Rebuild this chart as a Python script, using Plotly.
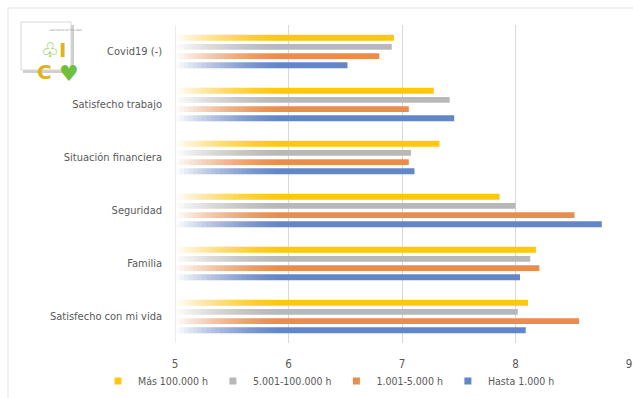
import plotly.graph_objects as go

categories = ["Satisfecho con mi vida", "Familia", "Seguridad",
              "Situación financiera", "Satisfecho trabajo", "Covid19 (-)"]
hasta_1000 = [8.09, 8.04, 8.76, 7.11, 7.46, 6.52]
h1001_5000 = [8.56, 8.21, 8.52, 7.06, 7.06, 6.80]
h5001_100000 = [8.02, 8.13, 8.00, 7.08, 7.42, 6.91]
mas_100000 = [8.11, 8.18, 7.86, 7.33, 7.28, 6.93]

series_names = ["Hasta 1.000 h", "1.001-5.000 h", "5.001-100.000 h", "Más 100.000 h"]
series_values = [hasta_1000, h1001_5000, h5001_100000, mas_100000]
series_colors = ["#6386C9", "#EC8C4A", "#B8B8B8", "#FFC80F"]
x_ticks = [5, 6, 7, 8, 9]

W, H = 633, 398
L, R, T, B = 175, 4, 25, 55
PW, PH = W - L - R, H - T - B


def px(x):
    return (x - L) / PW


def py(y):
    return (H - B - y) / PH


fig = go.Figure()
for name, vals, col in zip(series_names, series_values, series_colors):
    fig.add_trace(go.Bar(y=categories, x=vals, orientation="h", name=name,
                         marker=dict(color=col, line=dict(width=0)),
                         showlegend=False, hoverinfo="x+name"))
for name, col in zip(series_names, series_colors):
    fig.add_trace(go.Scatter(x=[None], y=[None], mode="markers", name=name,
                             marker=dict(symbol="square", size=7, color=col)))

# white fade overlay (gradient look of the bars, from the left edge)
shapes = []
N, span = 24, 0.95
targets = [(1 - (j - 0.5) / N) ** 1.4 for j in range(1, N + 1)] + [0.0]
for j in range(N, 0, -1):
    o = 1 - (1 - targets[j - 1]) / (1 - targets[j])
    shapes.append(dict(type="rect", xref="x", yref="paper", x0=5, x1=5 + span * j / N,
                       y0=0, y1=1, fillcolor="white", opacity=max(0.0, min(1.0, o)),
                       line=dict(width=0), layer="above"))
shapes += [
    dict(type="line", xref="x", yref="paper", x0=5, x1=5, y0=0, y1=1,
         line=dict(color="#d9d9d9", width=1), layer="above"),
    dict(type="line", xref="paper", yref="paper", x0=px(8), x1=px(640), y0=py(8), y1=py(8),
         line=dict(color="#e3e3e3", width=1)),
    dict(type="line", xref="paper", yref="paper", x0=px(8), x1=px(8), y0=py(8), y1=py(400),
         line=dict(color="#e3e3e3", width=1)),
    # logo tile shadow + tile
    dict(type="rect", xref="paper", yref="paper", x0=px(23), x1=px(74), y0=py(25), y1=py(73),
         fillcolor="#cfcfcf", line=dict(width=0)),
    dict(type="rect", xref="paper", yref="paper", x0=px(21), x1=px(71), y0=py(22), y1=py(70),
         fillcolor="white", line=dict(color="#d8d8d8", width=1)),
]

font_family = "'DejaVu Sans Condensed', 'Liberation Sans Narrow', sans-serif"
fig.update_layout(
    width=W, height=H,
    margin=dict(l=L, r=R, t=T, b=B, autoexpand=False),
    paper_bgcolor="white", plot_bgcolor="white",
    barmode="group", bargap=0.305, bargroupgap=0.355,
    font=dict(family=font_family, size=11, color="#595959"),
    xaxis=dict(range=[5, 9], tickvals=x_ticks, showgrid=True, gridcolor="#d9d9d9",
               gridwidth=1, zeroline=False, showline=False, ticks="",
               ticklabelstandoff=12, tickfont=dict(size=11.5, color="#595959")),
    yaxis=dict(showgrid=False, zeroline=False, showline=False, ticks="",
               ticklabelstandoff=12, tickfont=dict(size=11, color="#595959")),
    legend=dict(orientation="h", xref="paper", x=px(98), xanchor="left",
                yref="paper", y=py(381), yanchor="middle",
                traceorder="reversed", font=dict(size=10.5, color="#595959"),
                itemwidth=30, tracegroupgap=0, bgcolor="rgba(0,0,0,0)"),
    shapes=shapes,
    annotations=[
        dict(text="♧", x=px(39), y=py(36), xref="paper", yref="paper", showarrow=False,
             font=dict(size=20, color="#7cc24a", family="DejaVu Sans")),
        dict(text="<b>I</b>", x=px(57), y=py(36), xref="paper", yref="paper", showarrow=False,
             font=dict(size=20, color="#e2b21a", family="DejaVu Sans")),
        dict(text="<b>C</b>", x=px(35), y=py(58), xref="paper", yref="paper", showarrow=False,
             font=dict(size=20, color="#e2b21a", family="DejaVu Sans")),
        dict(text="♥", x=px(57), y=py(59), xref="paper", yref="paper", showarrow=False,
             font=dict(size=22, color="#6ebf3c", family="DejaVu Sans")),
        dict(text="Laboratorio de Felicidad", x=px(47), y=py(25.5), xref="paper", yref="paper",
             showarrow=False, font=dict(size=3, color="#999999")),
    ],
)

fig.write_html("out.html")
